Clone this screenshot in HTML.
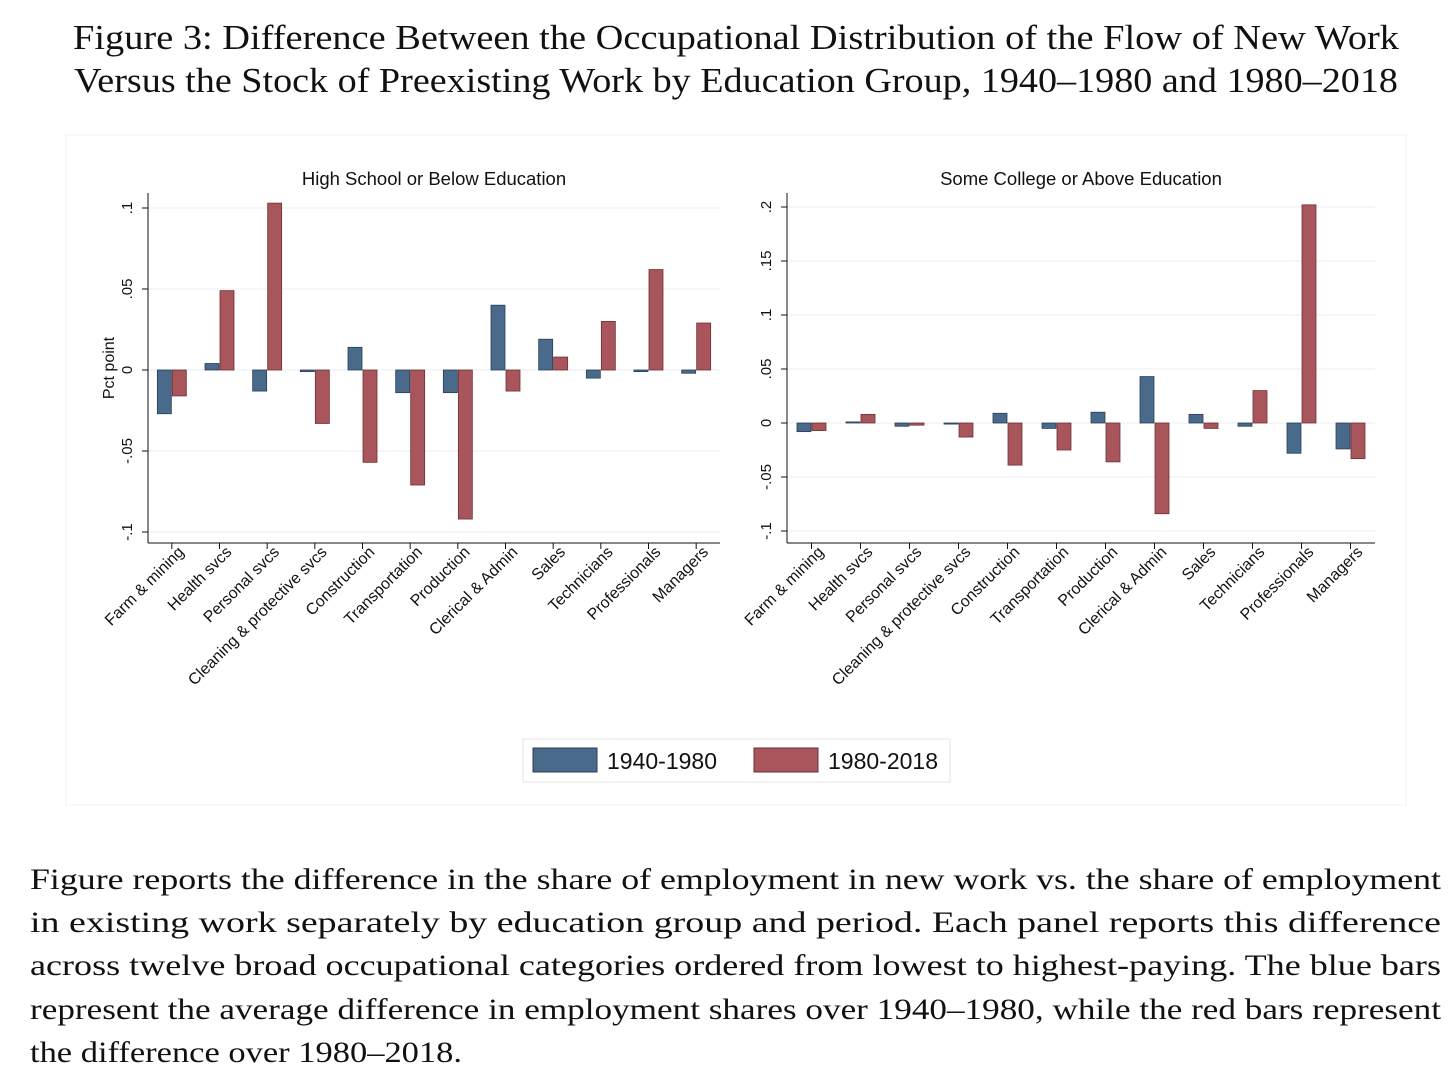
<!DOCTYPE html>
<html><head><meta charset="utf-8"><style>
body{margin:0;background:#fff;width:1456px;height:1082px;overflow:hidden}
svg{position:absolute;left:0;top:0}
.t{font-family:"Liberation Serif",serif;font-size:35px;fill:#111}
.c{font-family:"Liberation Serif",serif;font-size:30px;fill:#111}
.s{font-family:"Liberation Sans",sans-serif;fill:#111}
</style></head><body>
<svg id="chart" width="1456" height="1082">
<text class="t" x="736" y="49" text-anchor="middle" textLength="1326" lengthAdjust="spacingAndGlyphs">Figure 3: Difference Between the Occupational Distribution of the Flow of New Work</text>
<text class="t" x="736" y="92" text-anchor="middle" textLength="1324" lengthAdjust="spacingAndGlyphs">Versus the Stock of Preexisting Work by Education Group, 1940–1980 and 1980–2018</text>
<rect x="66" y="135" width="1340" height="670" fill="#fff" stroke="#eef2f5"/>
<g id="plots"></g>
<g>
<rect x="523" y="739" width="427" height="43" fill="#fff" stroke="#e6e6e6"/>
<rect x="533" y="748" width="64" height="24" fill="#4a6a8c" stroke="#2a3f55"/>
<text class="s" x="607" y="769" font-size="23">1940-1980</text>
<rect x="754" y="748" width="64" height="24" fill="#a8565c" stroke="#6e3034"/>
<text class="s" x="828" y="769" font-size="23">1980-2018</text>
</g>
<text class="c" x="30" y="889" textLength="1411" lengthAdjust="spacingAndGlyphs">Figure reports the difference in the share of employment in new work vs. the share of employment</text>
<text class="c" x="30" y="932" textLength="1411" lengthAdjust="spacingAndGlyphs">in existing work separately by education group and period.  Each panel reports this difference</text>
<text class="c" x="30" y="975" textLength="1411" lengthAdjust="spacingAndGlyphs">across twelve broad occupational categories ordered from lowest to highest-paying. The blue bars</text>
<text class="c" x="30" y="1019" textLength="1411" lengthAdjust="spacingAndGlyphs">represent the average difference in employment shares over 1940–1980, while the red bars represent</text>
<text class="c" x="30" y="1062" textLength="432" lengthAdjust="spacingAndGlyphs">the difference over 1980–2018.</text>
</svg>
<script>
const categories=["Farm & mining","Health svcs","Personal svcs","Cleaning & protective svcs","Construction","Transportation","Production","Clerical & Admin","Sales","Technicians","Professionals","Managers"];
const hsBlue=[-0.027,0.004,-0.013,-0.001,0.014,-0.014,-0.014,0.040,0.019,-0.005,-0.001,-0.002];
const hsRed=[-0.016,0.049,0.103,-0.033,-0.057,-0.071,-0.092,-0.013,0.008,0.030,0.062,0.029];
const colBlue=[-0.008,0.001,-0.003,-0.001,0.009,-0.005,0.010,0.043,0.008,-0.003,-0.028,-0.024];
const colRed=[-0.007,0.008,-0.002,-0.013,-0.039,-0.025,-0.036,-0.084,-0.005,0.030,0.202,-0.033];
const hsTicks=[0.1,0.05,0,-0.05,-0.1];
const hsTickLabels=[".1",".05","0","-.05","-.1"];
const colTicks=[0.2,0.15,0.1,0.05,0,-0.05,-0.1];
const colTickLabels=[".2",".15",".1",".05","0","-.05","-.1"];
const NS="http://www.w3.org/2000/svg";
const root=document.getElementById('plots');
function mk(tag,attrs,parent){const e=document.createElementNS(NS,tag);for(const k in attrs)e.setAttribute(k,attrs[k]);(parent||root).appendChild(e);return e;}
function panel(p){
  const g=mk('g',{});
  
  
  const y=v=>p.y0-(v/0.05)*p.pxPer05;
  const bw=(p.x1-p.x0)/categories.length;
  const x=i=>p.x0+bw*(i+0.5);
  p.ticks.forEach((t,i)=>{
    const gl=mk('line',{x1:p.x0,x2:p.x1,y1:y(t),y2:y(t),stroke:'#e9eef2','stroke-width':1},g);
    
    
    mk('line',{x1:p.x0-6,x2:p.x0,y1:y(t),y2:y(t),stroke:'#111'},g);
    const tl=mk('text',{class:'s','font-size':15,'text-anchor':'middle',transform:`translate(${p.x0-16},${y(t)}) rotate(-90)`},g);
    tl.textContent=p.tickLabels[i];
    
    
  });
  categories.forEach((c,i)=>{
    const vb=p.blue[i],vr=p.red[i];
    const b=mk('rect',{x:x(i)-14.5,y:Math.min(y(0),y(vb)),width:14,height:Math.max(Math.abs(y(vb)-y(0)),0.8),fill:'#4a6a8c',stroke:'#2a3f55','stroke-width':0.8},g);
    
    
    const r=mk('rect',{x:x(i)+0.5,y:Math.min(y(0),y(vr)),width:14,height:Math.max(Math.abs(y(vr)-y(0)),0.8),fill:'#a8565c',stroke:'#6e3034','stroke-width':0.8},g);
    
    
    mk('line',{x1:x(i),x2:x(i),y1:p.yb,y2:p.yb+6,stroke:'#111'},g);
    const tl=mk('text',{class:'s','font-size':16,'text-anchor':'end',transform:`translate(${x(i)+13},${p.yb+10}) rotate(-45)`},g);
    tl.textContent=c;
    
    
  });
  mk('line',{x1:p.x0,x2:p.x0,y1:p.yt,y2:p.yb,stroke:'#111'},g);
  mk('line',{x1:p.x0,x2:p.x1,y1:p.yb,y2:p.yb,stroke:'#111'},g);
  const tt=mk('text',{class:'s','font-size':18.5,'text-anchor':'middle',x:(p.x0+p.x1)/2,y:185},g);
  tt.textContent=p.title;
  
  
}
panel({name:'panel-high-school',x0:148,x1:720,y0:370,pxPer05:81,yt:193,yb:543,blue:hsBlue,red:hsRed,ticks:hsTicks,tickLabels:hsTickLabels,title:'High School or Below Education'});
panel({name:'panel-some-college',x0:787,x1:1375,y0:423,pxPer05:54,yt:193,yb:543,blue:colBlue,red:colRed,ticks:colTicks,tickLabels:colTickLabels,title:'Some College or Above Education'});
const yt=mk('text',{class:'s','font-size':16,'text-anchor':'middle',transform:'translate(114,368) rotate(-90)'});
yt.textContent='Pct point';


</script>
</body></html>
